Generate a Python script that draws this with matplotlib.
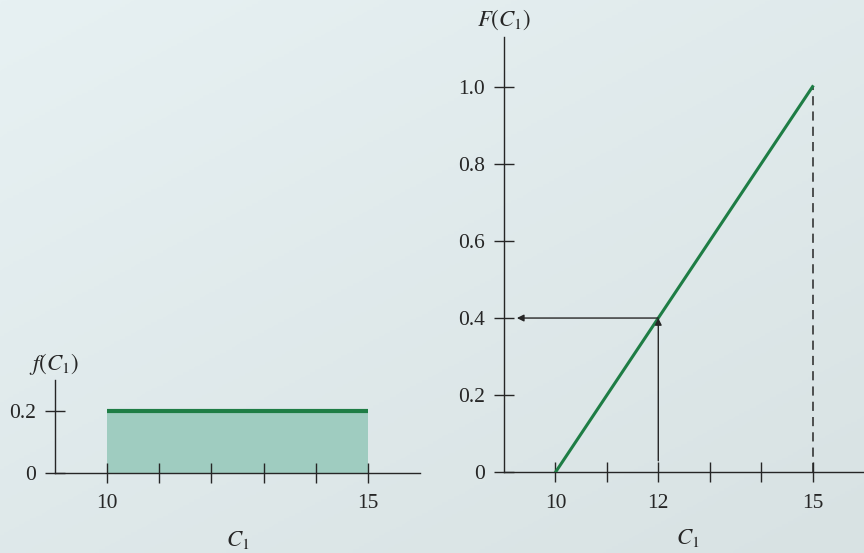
import numpy as np
import matplotlib
matplotlib.use("Agg")
import matplotlib.pyplot as plt
from matplotlib.colors import LinearSegmentedColormap

plt.rcParams["font.family"] = ["Liberation Serif", "DejaVu Serif"]
plt.rcParams["mathtext.fontset"] = "stix"

# Uniform distribution of C1 on [10, 15]
c_low, c_high = 10, 15
density = 0.2
pdf_x = [c_low, c_high]
pdf_y = [density, density]

cdf_x = [c_low, c_high]
cdf_y = [0.0, 1.0]

x_ticks = [10, 11, 12, 13, 14, 15]
left_xlabels = ["10", "", "", "", "", "15"]
right_xlabels = ["10", "", "12", "", "", "15"]
left_yticks = [0, 0.2]
left_ylabels = ["0", "0.2"]
right_yticks = [0, 0.2, 0.4, 0.6, 0.8, 1.0]
right_ylabels = ["0", "0.2", "0.4", "0.6", "0.8", "1.0"]

# Lookup example: C1 = 12 gives F(C1) = 0.4
c_pick = 12
f_pick = 0.4

green = "#1e7d45"
fill_col = "#9fccc0"
ink = "#262626"

W, H = 864, 553
fig = plt.figure(figsize=(W / 100, H / 100), dpi=100)

# soft paper-like background
bg = fig.add_axes([0, 0, 1, 1], zorder=-10)
yy, xx = np.mgrid[0:1:200j, 0:1:300j]
shade = 0.55 * yy + 0.45 * xx
cmap = LinearSegmentedColormap.from_list("bg", ["#e7f1f3", "#d8e2e3"])
bg.imshow(shade, cmap=cmap, aspect="auto", extent=[0, 1, 0, 1], origin="upper")
bg.set_axis_off()


def px(x0, y0, x1, y1):
    return [x0 / W, 1 - y1 / H, (x1 - x0) / W, (y1 - y0) / H]


def style(ax):
    ax.set_facecolor("none")
    for s in ("top", "right"):
        ax.spines[s].set_visible(False)
    for s in ("left", "bottom"):
        ax.spines[s].set_color(ink)
        ax.spines[s].set_linewidth(1.0)
    ax.tick_params(direction="inout", length=15, width=1.0, color=ink,
                   labelsize=15.5, labelcolor=ink)
    ax.tick_params(axis="y", pad=6)
    ax.tick_params(axis="x", pad=8)


# left panel: density
ax1 = fig.add_axes(px(55, 380, 420, 472.7))
style(ax1)
ax1.set_xlim(9, 16)
ax1.set_ylim(0, 0.3)
ax1.fill_between(pdf_x, 0, pdf_y, color=fill_col, lw=0, zorder=1)
ax1.plot(pdf_x, pdf_y, color=green, lw=3.0, solid_capstyle="butt", zorder=2)
ax1.set_xticks(x_ticks)
ax1.set_xticklabels(left_xlabels)
ax1.set_yticks(left_yticks)
ax1.set_yticklabels(left_ylabels)
ax1.spines["left"].set_zorder(3)

# right panel: cumulative distribution
ax2 = fig.add_axes(px(504, 37.3, 864, 472.3))
style(ax2)
ax2.set_xlim(9, 16)
ax2.set_ylim(0, 1.128)
ax2.plot(cdf_x, cdf_y, color=green, lw=2.2, zorder=3)
ax2.plot([c_high, c_high], [0, cdf_y[-1]], color=ink, lw=1.1,
         dashes=(6, 4), zorder=2)
ax2.annotate("", xy=(c_pick, f_pick), xytext=(c_pick, 0.03),
             arrowprops=dict(arrowstyle="-|>", color=ink, lw=1.0,
                             mutation_scale=10, shrinkA=0, shrinkB=0))
ax2.annotate("", xy=(9.25, f_pick), xytext=(c_pick, f_pick),
             arrowprops=dict(arrowstyle="-|>", color=ink, lw=1.0,
                             mutation_scale=10, shrinkA=0, shrinkB=0))
ax2.set_xticks(x_ticks)
ax2.set_xticklabels(right_xlabels)
ax2.set_yticks(right_yticks)
ax2.set_yticklabels(right_ylabels)

# axis titles
fig.text(238 / W, 1 - 540 / H, r"$C_1$", fontsize=16.5, color=ink,
         ha="center", va="center")
fig.text(688 / W, 1 - 538 / H, r"$C_1$", fontsize=16.5, color=ink,
         ha="center", va="center")
fig.text(54 / W, 1 - 364 / H, r"$f(C_1)$", fontsize=16.5, color=ink,
         ha="center", va="center")
fig.text(504 / W, 1 - 20 / H, r"$F(C_1)$", fontsize=16.5, color=ink,
         ha="center", va="center")

fig.savefig("out.png", dpi=100)
